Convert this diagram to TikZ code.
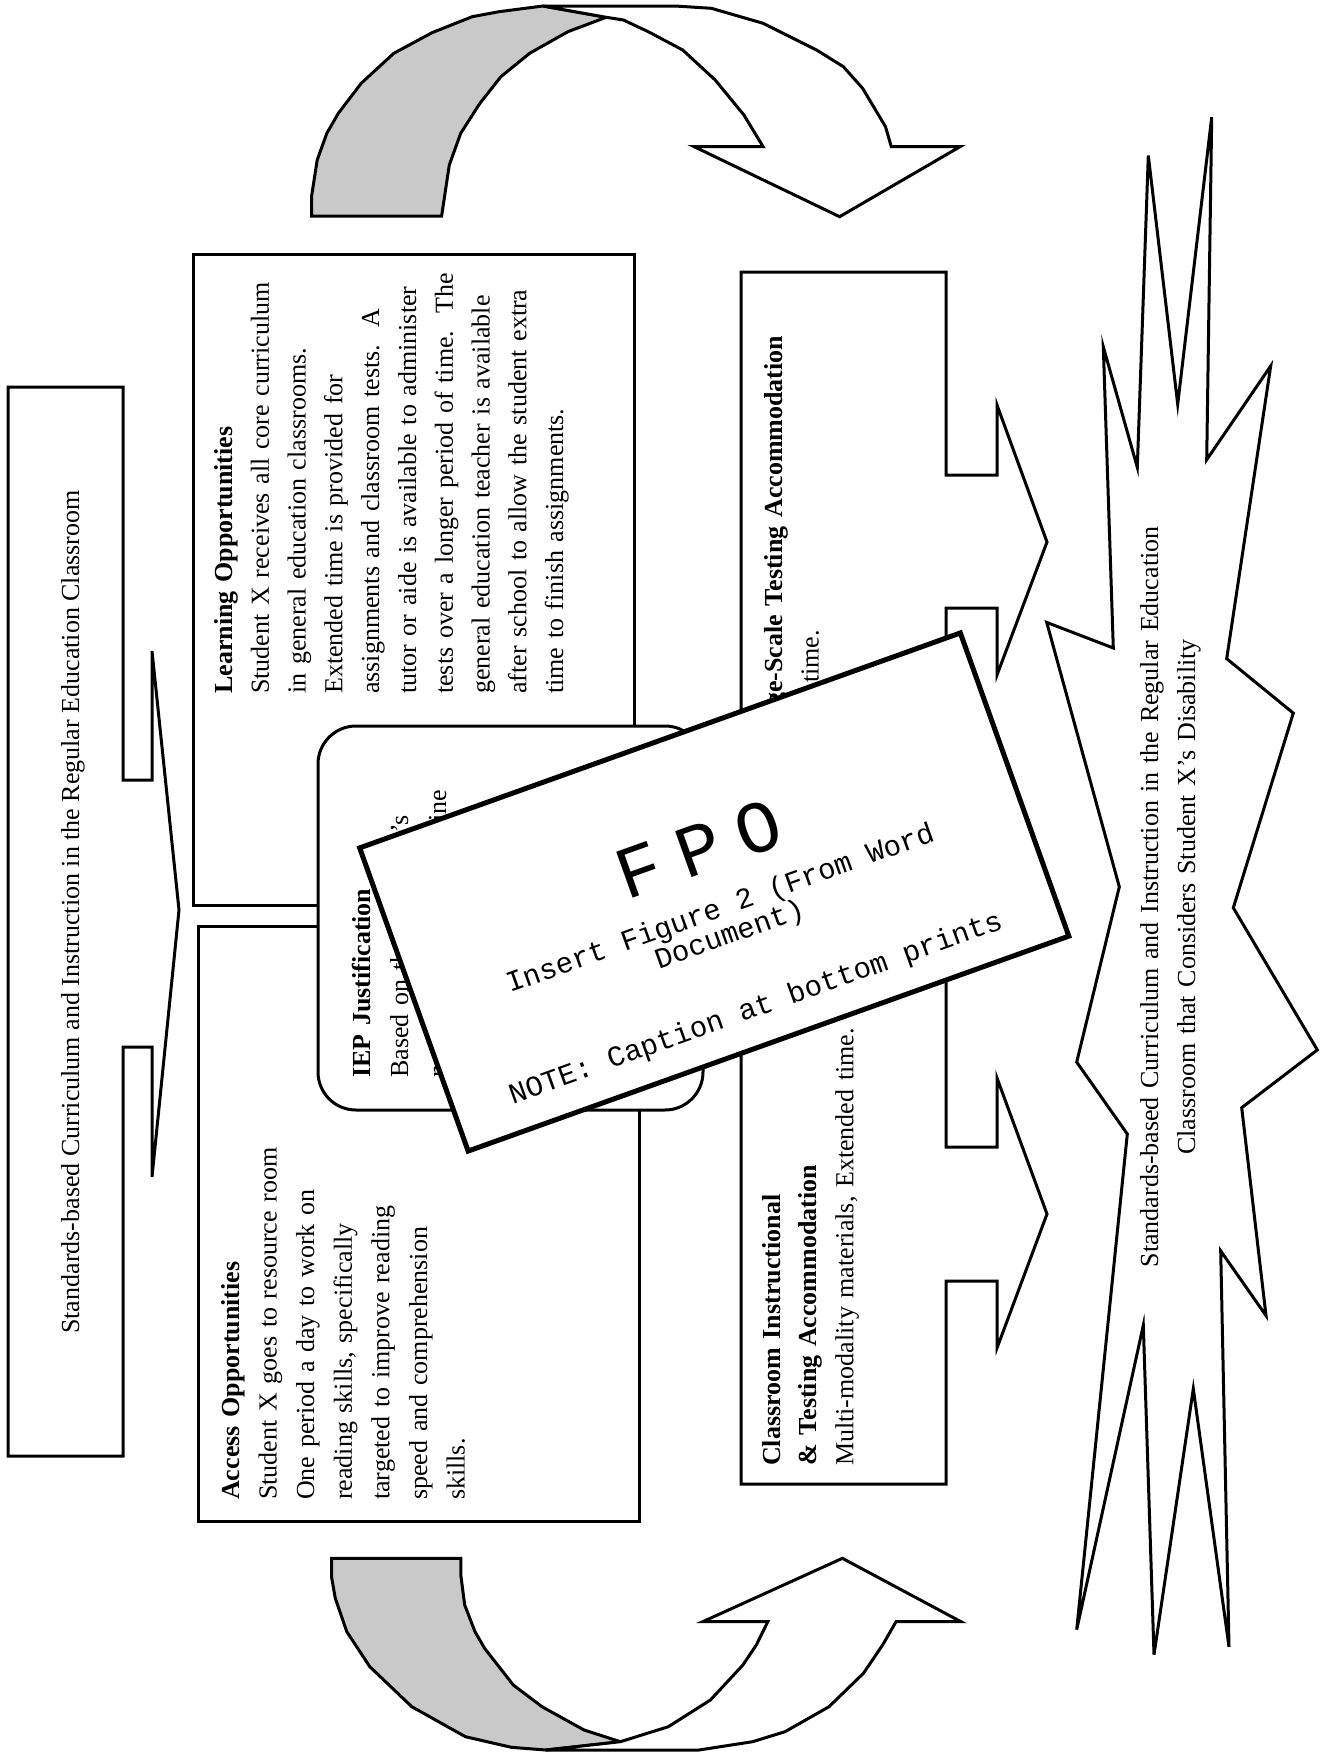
\documentclass[tikz,border=0pt]{standalone}
\usepackage{fontspec}
\setmainfont{Liberation Serif}
\newfontfamily\fpomono{Liberation Mono}
\newfontfamily\fpowide[LetterSpace=25]{Liberation Mono}
\usetikzlibrary{calc}
\definecolor{backgray}{gray}{0.79}

\begin{document}
\begin{tikzpicture}[x=1pt,y=-1pt,
  shape line/.style={draw,line width=3pt,fill=white},
  box text/.style={rotate=90,anchor=base west,inner sep=0pt,align=left,font=\fontsize{26}{36.8}\selectfont},
  fpo text/.style={rotate=19.69,inner sep=0pt,align=center}]
\useasboundingbox (0,0) rectangle (1327,1754);
%left box
  \draw[shape line] (8,387) -- (123,387) -- (123,780) -- (152,780) -- (152,651) -- (179,910)
    -- (152,1177) -- (152,1047) -- (123,1047) -- (123,1456) -- (8,1456) -- cycle;
  \node[rotate=90,anchor=base,inner sep=0pt,font=\fontsize{26}{30}\selectfont] (std) at (79,912)
    {Standards-based Curriculum and Instruction in the Regular Education Classroom};
%learning
  \draw[shape line] (193,254) rectangle (634,905);
  \node[box text,text width=470pt] (learn) at (232,694) {\textbf{Learning Opportunities}\\
    Student X receives all core curriculum\\ in general education classrooms.\\
    Extended time is provided for\\ assignments and classroom tests.\ \ A\\
    tutor or aide is available to administer\\ tests over a longer period of time.\ \ The\\
    general education teacher is available\\ after school to allow the student extra\\
    time to finish assignments.};
%access
  \draw[shape line] (198,926) rectangle (639,1521);
  \node[box text,text width=560pt,font=\fontsize{26}{37.6}\selectfont] (access) at (239,1500)
    {\textbf{Access Opportunities}\\ Student X goes to resource room\\ One period a day to work on\\
    reading skills, specifically\\ targeted to improve reading\\ speed and comprehension\\ skills.};
%large-scale
  \draw[shape line] (741,272) -- (946,272) -- (946,475) -- (997,475) -- (997,405) -- (1047,542)
    -- (997,675) -- (997,608) -- (946,608) -- (946,760) -- (741,760) -- cycle;
  \node[box text,text width=430pt,font=\fontsize{26}{36.5}\selectfont] (large) at (782,748)
    {\textbf{Large-Scale Testing Accommodation}\\ Extra time.};
%classroom
  \draw[shape line] (741,880) -- (946,880) -- (946,1147) -- (997,1147) -- (997,1078) -- (1047,1214)
    -- (997,1348) -- (997,1281) -- (946,1281) -- (946,1484) -- (741,1484) -- cycle;
  \node[box text,text width=470pt,font=\fontsize{26}{36.7}\selectfont] (class) at (780,1466)
    {\textbf{Classroom Instructional}\\ \textbf{\& Testing Accommodation}\\
    Multi-modality materials, Extended time.};
%burst
  \draw[shape line] (1211.7,117.2) -- (1206.7,459.7) -- (1270.7,366) -- (1226.7,658.7)
    -- (1293.3,713.1) -- (1233.3,907.8) -- (1317.3,1049.9) -- (1241.7,1107.7) -- (1266,1315.6)
    -- (1220.7,1250.9) -- (1229,1646.9) -- (1193.3,1388.8) -- (1154,1654.6) -- (1143.3,1325.3)
    -- (1076.7,1629.6) -- (1127.3,1134) -- (1076.7,1062.1) -- (1119.3,886.8) -- (1046.7,622.4)
    -- (1113.3,648) -- (1103.3,346.8) -- (1137.3,467.4) -- (1148.3,155.5) -- (1177.7,404.2) -- cycle;
  \node[rotate=90,anchor=base,inner sep=0pt,text width=760pt,align=center,
    font=\fontsize{26}{37}\selectfont] (goal) at (1158,897)
    {Standards-based Curriculum and Instruction in the Regular Education\\
    Classroom that Considers Student X’s Disability};
%top turn
  \draw[shape line,fill=backgray] (311.5,216) -- (311.5,196.7) -- (317.2,160) -- (326.8,133.3)
    -- (338.3,113.3) -- (361.2,83.3) -- (393.8,53.3) -- (432,32.7) -- (472.2,16.7) -- (499,11.7)
    -- (543,6) -- (606.2,17.3) -- (567.9,31.7) -- (529.6,53.3) -- (500.9,76.7) -- (479.9,103.3)
    -- (460.7,133.3) -- (449.3,165) -- (441.6,216) -- cycle;
  \draw[shape line] (543,6) -- (675,6) -- (711.4,8.3) -- (763.1,23.3) -- (816.6,50) -- (843.4,66.7)
    -- (862.6,88.3) -- (885.5,126.7) -- (891.3,146.7) -- (960,146.7) -- (839.6,216.7) -- (694.2,146.7)
    -- (763.1,146.7) -- (743.9,115) -- (715.2,80) -- (682.7,50) -- (648.3,31.7) -- (623.4,20)
    -- (606.2,17.3) -- cycle;
%bottom turn
  \draw[shape line,fill=backgray] (331.5,1558.3) -- (331.5,1576.7) -- (335.3,1598.3) -- (346.8,1631.7)
    -- (369.8,1666.7) -- (411.8,1706.7) -- (465.4,1736.7) -- (511.4,1747.3) -- (545.8,1750)
    -- (620.4,1741.7) -- (584.1,1730) -- (542,1706.7) -- (513.3,1685) -- (484.6,1648.3) -- (475,1631.7)
    -- (464.7,1605) -- (460.8,1575) -- (460.8,1558.3) -- cycle;
  \draw[shape line] (545.8,1750) -- (698.9,1750) -- (752.5,1741.7) -- (785,1731.7) -- (829,1706.7)
    -- (863.4,1673.3) -- (882.6,1645) -- (896,1621.7) -- (961,1621.7) -- (842.4,1558.3) -- (702.7,1621.7)
    -- (767.8,1621.7) -- (756.3,1645) -- (742.9,1665) -- (710.4,1700) -- (668.3,1726.7)
    -- (620.4,1741.7) -- cycle;
%iep
  \draw[shape line,rounded corners=38pt] (318,726) rectangle (703,1110);
  \node[box text,text width=380pt,font=\fontsize{26}{38}\selectfont] (iep) at (370,1078)
    {\textbf{IEP Justification}\\ Based on the IEP team’s\\ needs, the team will define};
%fpo
  \node[shape line,line width=5pt,rotate=19.69,minimum width=638pt,minimum height=322pt,inner sep=0pt]
    (fpo) at (714.25,892) {};
  \node[fpo text,font=\fpowide\fontsize{74}{74}\selectfont] (fpotitle)
    at ($(fpo.north)!0.36!(fpo.south)$) {FPO};
  \node[fpo text,font=\fpomono\fontsize{29}{27}\selectfont] (fpoinsert)
    at ($(fpo.north)!0.60!(fpo.south)$) {Insert Figure 2 (From Word\\Document)};
  \node[fpo text,font=\fpomono\fontsize{29}{29}\selectfont] (fponote)
    at ($(fpo.north)!0.88!(fpo.south)$) {NOTE: Caption at bottom prints};
\end{tikzpicture}
\end{document}
